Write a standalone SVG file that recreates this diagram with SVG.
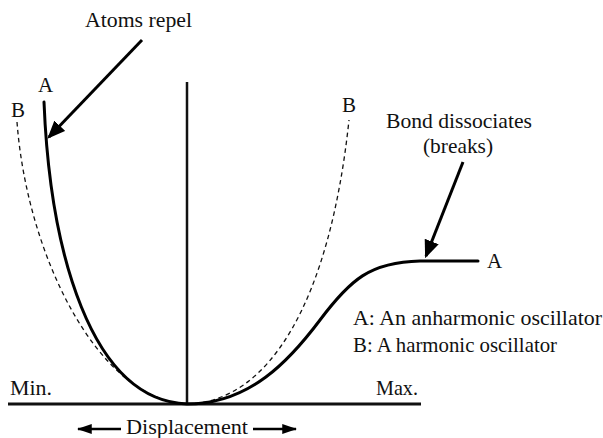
<svg xmlns="http://www.w3.org/2000/svg" width="603" height="438" viewBox="0 0 603 438">
<defs>
<style>
text{font-family:"Liberation Serif","Times New Roman",serif;font-size:21px;fill:#111}
.axis{stroke:#111;stroke-width:3;fill:none}
.curveA{stroke:#000;stroke-width:3;fill:none;stroke-linecap:round}
.curveB{stroke:#111;stroke-width:1.3;fill:none;stroke-dasharray:4.5,3.5}
.arr{stroke:#000;stroke-width:3;fill:none}
.arr2{stroke:#000;stroke-width:2.5;fill:none}
</style>
<marker id="ah" markerWidth="6" markerHeight="5" refX="5.2" refY="2.5" orient="auto" markerUnits="strokeWidth">
<path d="M0,0 L6,2.5 L0,5 z" fill="#000"/>
</marker>
<marker id="ah2" markerWidth="6" markerHeight="4" refX="5.5" refY="2" orient="auto" markerUnits="strokeWidth">
<path d="M0,0 L6,2 L0,4 z" fill="#000"/>
</marker>
</defs>
<rect width="603" height="438" fill="#fff"/>
<g id="axes">
<line class="axis" x1="8" y1="404" x2="421" y2="404"/>
<line class="axis" x1="187" y1="82" x2="187" y2="404" style="stroke-width:2.5"/>
</g>
<g id="curve-B">
<path class="curveB" d="M17,122 C27,255 98,400 187,404"/>
<path class="curveB" d="M187,404 C270,402 330,300 349,120"/>
</g>
<g id="curve-A">
<path class="curveA" d="M44,102 C50,250 90,400 187,404 C250,404 290,360 320,320 C350,280 370,262 420,261 L478,261"/>
</g>
<g id="connectors">
<line class="arr" x1="142" y1="40" x2="49" y2="137" marker-end="url(#ah)"/>
<line class="arr" x1="463" y1="162" x2="426" y2="256" marker-end="url(#ah)"/>
<line class="arr2" x1="121" y1="429" x2="78" y2="429" marker-end="url(#ah2)"/>
<line class="arr2" x1="253" y1="429" x2="296" y2="429" marker-end="url(#ah2)"/>
</g>
<g id="labels">
<text x="85" y="27" textLength="107" lengthAdjust="spacingAndGlyphs">Atoms repel</text>
<text x="38" y="92">A</text>
<text x="11" y="117">B</text>
<text x="342" y="112">B</text>
<text x="386" y="128" textLength="146" lengthAdjust="spacingAndGlyphs">Bond dissociates</text>
<text x="423" y="153" textLength="70" lengthAdjust="spacingAndGlyphs">(breaks)</text>
<text x="487" y="268">A</text>
<text x="353" y="325" textLength="249" lengthAdjust="spacingAndGlyphs">A: An anharmonic oscillator</text>
<text x="353" y="352" textLength="204" lengthAdjust="spacingAndGlyphs">B: A harmonic oscillator</text>
<text x="10" y="395" textLength="42" lengthAdjust="spacingAndGlyphs">Min.</text>
<text x="376" y="395" textLength="42" lengthAdjust="spacingAndGlyphs">Max.</text>
<text x="126" y="434" textLength="122" lengthAdjust="spacingAndGlyphs">Displacement</text>
</g>
</svg>
